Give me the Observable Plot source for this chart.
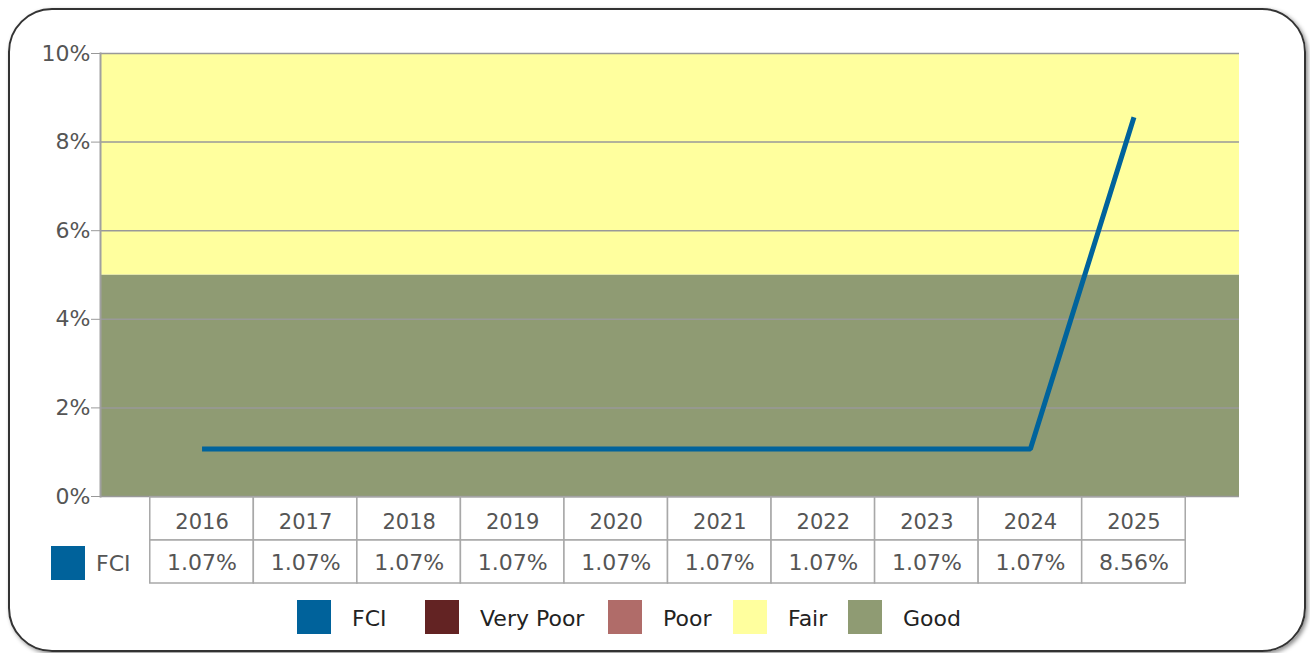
<!DOCTYPE html>
<html>
<head>
<meta charset="utf-8">
<script src="https://cdn.jsdelivr.net/npm/d3@7"></script>
<script src="https://cdn.jsdelivr.net/npm/@observablehq/plot@0.6"></script>
<style>
  html, body { margin: 0; padding: 0; background: #fff; }
  body { width: 1310px; height: 653px; position: relative; overflow: hidden; font-family: "DejaVu Sans", Verdana, sans-serif; }
  #frame { position: absolute; left: 8px; top: 8px; width: 1294px; height: 640px; border: 2px solid #333; border-radius: 44px; box-shadow: 2px 2px 4px rgba(0,0,0,0.45); box-sizing: content-box; }
  #chart { position: absolute; left: 0; top: 0; }
  #table { position: absolute; left: 0; top: 496px; }
  .sw { position: absolute; width: 34px; height: 34px; }
  .lbl { position: absolute; font-size: 22px; line-height: 34px; white-space: nowrap; }
</style>
</head>
<body>
<div id="frame"></div>
<div id="chart"></div>
<div id="table"></div>
<div id="tlegend"></div>
<div id="legend"></div>
<script>
const years = [2016, 2017, 2018, 2019, 2020, 2021, 2022, 2023, 2024, 2025];
const fci = [1.07, 1.07, 1.07, 1.07, 1.07, 1.07, 1.07, 1.07, 1.07, 8.56];
const yTicks = [0, 2, 4, 6, 8, 10];
const bandNames = ["Good", "Fair"];
const bandLo = [0, 5];
const bandHi = [5, 10];
const legendNames = ["FCI", "Very Poor", "Poor", "Fair", "Good"];
const legendColors = ["#00629B", "#632323", "#B06C69", "#FFFF9E", "#8F9B73"];
const legendX = [297, 425, 608, 733, 848];

const colorOf = Object.fromEntries(legendNames.map((n, i) => [n, legendColors[i]]));
const data = years.map((y, i) => ({year: y, fci: fci[i]}));
const bands = bandNames.map((n, i) => ({name: n, lo: bandLo[i], hi: bandHi[i]}));

const W = 1310;
const mL = 100, mR = 71;
const xRange = [98, 1237];

const chart = Plot.plot({
  width: W,
  height: 500,
  marginTop: 53,
  marginBottom: 4,
  marginLeft: mL,
  marginRight: mR,
  style: {fontFamily: "DejaVu Sans, Verdana, sans-serif", fontSize: "22px", background: "transparent", overflow: "visible"},
  x: {type: "point", domain: years, padding: 1, round: false, range: xRange, axis: null},
  y: {domain: [0, 10], axis: null},
  color: {domain: bandNames, range: bandNames.map(n => colorOf[n])},
  marks: [
    Plot.rect(bands, {y1: "lo", y2: "hi", fill: "name"}),
    Plot.ruleY(yTicks, {stroke: "#999", strokeWidth: 1.5}),
    Plot.frame({anchor: "left", stroke: "#a0a0a0", strokeWidth: 2}),
    Plot.axisY(yTicks, {tickSize: 9, tickPadding: 1, stroke: "#999", fill: "#555", tickFormat: d => d + "%", label: null, fontSize: 22}),
    Plot.line(data, {x: "year", y: "fci", stroke: "#00639C", strokeWidth: 5, strokeLinejoin: "miter", strokeLinecap: "butt"})
  ]
});
document.getElementById("chart").appendChild(chart);

const cells = [];
years.forEach((y, i) => {
  cells.push({year: y, row: "year", text: String(y)});
  cells.push({year: y, row: "value", text: fci[i].toFixed(2) + "%"});
});

const table = Plot.plot({
  width: W,
  height: 89,
  marginTop: 1,
  marginBottom: 2,
  marginLeft: mL,
  marginRight: mR,
  style: {fontFamily: "DejaVu Sans, Verdana, sans-serif", background: "transparent", overflow: "visible"},
  x: {type: "band", domain: years, paddingInner: 0, paddingOuter: 0.5, round: false, range: xRange, axis: null},
  y: {type: "band", domain: ["year", "value"], padding: 0, round: false, axis: null},
  marks: [
    Plot.cell(cells, {x: "year", y: "row", fill: "white", stroke: "#a8a8a8", strokeWidth: 1.5, inset: 0}),
    Plot.text(cells.filter(c => c.row === "year"), {x: "year", y: "row", text: "text", fill: "#555", fontSize: 21, dy: 3}),
    Plot.text(cells.filter(c => c.row === "value"), {x: "year", y: "row", text: "text", fill: "#555", fontSize: 22, dy: 1})
  ]
});
document.getElementById("table").appendChild(table);

// series label inside table
const tl = document.getElementById("tlegend");
tl.innerHTML = `<div class="sw" style="left:51px;top:546px;background:${colorOf.FCI}"></div>` +
  `<div class="lbl" style="left:96px;top:547px;color:#555">FCI</div>`;

const lg = document.getElementById("legend");
lg.innerHTML = legendNames.map((n, i) =>
  `<div class="sw" style="left:${legendX[i]}px;top:600px;background:${legendColors[i]}"></div>` +
  `<div class="lbl" style="left:${legendX[i] + 55}px;top:602px;color:#222">${n}</div>`
).join("");
</script>
</body>
</html>
